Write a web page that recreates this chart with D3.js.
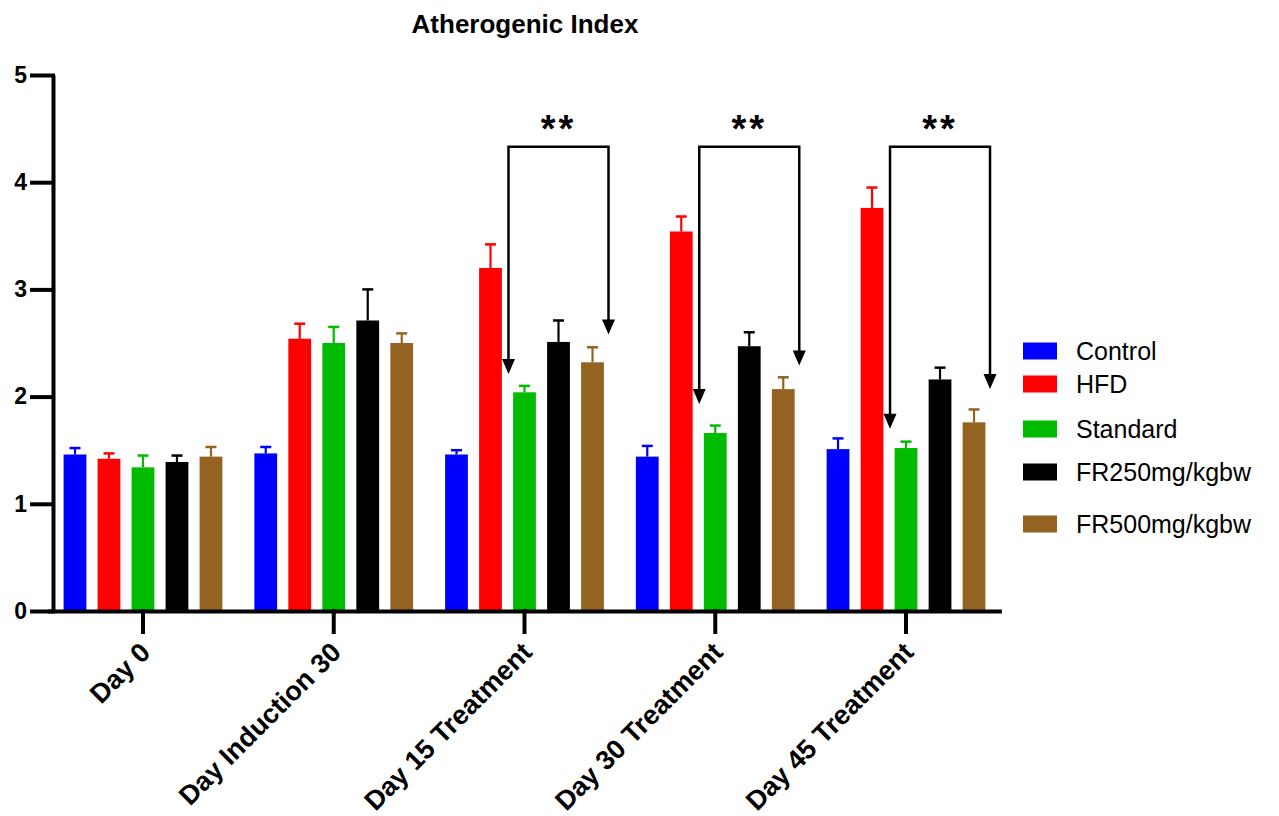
<!DOCTYPE html>
<html lang="en">
<head>
<meta charset="UTF-8">
<title>Atherogenic Index</title>
<script src="https://cdn.jsdelivr.net/npm/d3@7/dist/d3.min.js"></script>
<style>
  * { margin: 0; padding: 0; }
  body { background: #fff; font-family: 'Liberation Sans', Arial, sans-serif; }
  svg { display: block; }
  .axis text { font-weight: bold; fill: #000; }
</style>
</head>
<body>
<svg width="1279" height="816"></svg>
<script>
// data
const groups = ['Day 0', 'Day Induction 30', 'Day 15 Treatment', 'Day 30 Treatment', 'Day 45 Treatment'];
const seriesNames = ['Control', 'HFD', 'Standard', 'FR250mg/kgbw', 'FR500mg/kgbw'];
const seriesColors = ['#0000ff', '#ff0000', '#00bb00', '#000000', '#946321'];

const controlMean = [1.46, 1.47, 1.46, 1.44, 1.51];
const hfdMean = [1.42, 2.54, 3.20, 3.54, 3.76];
const standardMean = [1.34, 2.50, 2.04, 1.66, 1.52];
const fr250Mean = [1.39, 2.71, 2.51, 2.47, 2.16];
const fr500Mean = [1.44, 2.50, 2.32, 2.07, 1.76];

const controlErr = [0.06, 0.06, 0.04, 0.10, 0.10];
const hfdErr = [0.05, 0.14, 0.22, 0.14, 0.19];
const standardErr = [0.11, 0.15, 0.06, 0.07, 0.06];
const fr250Err = [0.06, 0.29, 0.20, 0.13, 0.11];
const fr500Err = [0.09, 0.09, 0.14, 0.11, 0.12];

const yTicks = [0, 1, 2, 3, 4, 5];

// significance brackets (HFD group vs. treatments)
const bracketGroups = ['Day 15 Treatment', 'Day 30 Treatment', 'Day 45 Treatment'];
const bracketTop = [4.33, 4.33, 4.33];
const bracketLeftTip = [2.21, 1.93, 1.70];
const bracketRightTip = [2.58, 2.29, 2.07];
const bracketLabel = ['**', '**', '**'];

const means = [controlMean, hfdMean, standardMean, fr250Mean, fr500Mean];
const errs = [controlErr, hfdErr, standardErr, fr250Err, fr500Err];

const rows = [];
groups.forEach((g, gi) => {
  seriesNames.forEach((s, si) => {
    rows.push({ group: g, series: s, color: seriesColors[si], value: means[si][gi], err: errs[si][gi] });
  });
});

const svg = d3.select('svg');

const x0 = d3.scaleBand().domain(groups).range([47.6, 1001.4]);
const x1 = d3.scaleBand().domain(seriesNames).range([-85, 85]).paddingInner(0.33).paddingOuter(0.165);
const y = d3.scaleLinear().domain([0, 5]).range([611, 75]);
const gc = g => x0(g) + x0.bandwidth() / 2;

// title
svg.append('text')
  .attr('x', 525).attr('y', 33)
  .attr('text-anchor', 'middle')
  .style('font-size', '26px').style('font-weight', 'bold')
  .text('Atherogenic Index');

// bars
const bars = svg.append('g');
bars.selectAll('rect').data(rows).join('rect')
  .attr('x', d => gc(d.group) + x1(d.series))
  .attr('y', d => y(d.value))
  .attr('width', x1.bandwidth())
  .attr('height', d => y(0) - y(d.value))
  .attr('fill', d => d.color);

// error bars (upper only)
const capW = 11;
bars.selectAll('line.err').data(rows).join('line')
  .attr('class', 'err')
  .attr('x1', d => gc(d.group) + x1(d.series) + x1.bandwidth() / 2)
  .attr('x2', d => gc(d.group) + x1(d.series) + x1.bandwidth() / 2)
  .attr('y1', d => y(d.value))
  .attr('y2', d => y(d.value + d.err))
  .attr('stroke', d => d.color).attr('stroke-width', 2.2);
bars.selectAll('line.cap').data(rows).join('line')
  .attr('class', 'cap')
  .attr('x1', d => gc(d.group) + x1(d.series) + x1.bandwidth() / 2 - capW / 2)
  .attr('x2', d => gc(d.group) + x1(d.series) + x1.bandwidth() / 2 + capW / 2)
  .attr('y1', d => y(d.value + d.err))
  .attr('y2', d => y(d.value + d.err))
  .attr('stroke', d => d.color).attr('stroke-width', 2.5);

// y axis
const yAxis = svg.append('g').attr('class', 'axis')
  .attr('transform', 'translate(53,0)')
  .call(d3.axisLeft(y).tickValues(yTicks).tickFormat(d3.format('d'))
    .tickSize(21).tickSizeOuter(0).tickPadding(5));
yAxis.selectAll('text').style('font-size', '23px');

// x axis
const xAxis = svg.append('g').attr('class', 'axis')
  .attr('transform', 'translate(0,611)')
  .call(d3.axisBottom(x0).tickSize(21).tickSizeOuter(0));
xAxis.selectAll('text')
  .style('font-size', '27px')
  .attr('text-anchor', 'end')
  .attr('dy', 0)
  .attr('y', 0)
  .attr('transform', 'translate(9,43) rotate(-45)');

svg.selectAll('.axis path, .axis line')
  .attr('stroke', '#000').attr('stroke-width', 4)
  .attr('stroke-linecap', 'square');
svg.selectAll('.axis .domain').attr('stroke-linecap', 'butt');

// brackets with arrows
const br = svg.append('g');
const arrowH = 15, arrowW = 13;
bracketGroups.forEach((g, i) => {
  const xl = gc(g) + x1('Standard') + x1.bandwidth() / 2 - 16;
  const xr = gc(g) + x1('FR500mg/kgbw') + x1.bandwidth() / 2 + 16;
  const yt = y(bracketTop[i]);
  const yl = y(bracketLeftTip[i]);
  const yr = y(bracketRightTip[i]);
  br.append('path')
    .attr('d', d3.line()([[xl, yl - arrowH + 1], [xl, yt], [xr, yt], [xr, yr - arrowH + 1]]))
    .attr('fill', 'none').attr('stroke', '#000').attr('stroke-width', 2.5);
  [[xl, yl], [xr, yr]].forEach(([ax, ay]) => {
    br.append('path')
      .attr('d', `M${ax - arrowW / 2},${ay - arrowH}L${ax + arrowW / 2},${ay - arrowH}L${ax},${ay}Z`)
      .attr('fill', '#000');
  });
  br.append('text')
    .attr('x', (xl + xr) / 2).attr('y', yt - 5)
    .attr('text-anchor', 'middle')
    .style('font-size', '38px').style('font-weight', 'bold')
    .style('letter-spacing', '3px')
    .text(bracketLabel[i]);
});

// legend
const legendY = [351, 384, 429, 472, 524];
const legend = svg.append('g');
seriesNames.forEach((s, i) => {
  legend.append('rect')
    .attr('x', 1023).attr('y', legendY[i] - 8.5)
    .attr('width', 34).attr('height', 17)
    .attr('fill', seriesColors[i]);
  legend.append('text')
    .attr('x', 1076).attr('y', legendY[i])
    .attr('dy', '0.36em')
    .style('font-size', '25px')
    .text(s);
});
</script>
</body>
</html>
